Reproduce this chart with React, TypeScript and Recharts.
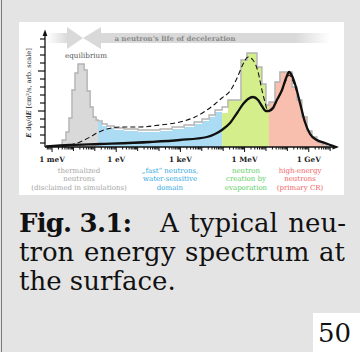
import { ComposedChart, Area, Line, XAxis, YAxis } from 'recharts';

// x values are log10(E / eV), y values in arbitrary units (pixels above the axis)
const histEdges = [
  -2.53, -2.35, -2.21, -2.07, -1.93, -1.79, -1.65, -1.5, -1.36, -1.22, -1.08, -0.94, -0.85,
  -0.66, -0.43, -0.1, 0.36, 1.02, 2.05, 2.61, 3.17, 3.64, 4.01, 4.34, 4.62, 4.95,
  5.22, 5.83, 6.11, 6.58, 6.81, 7.0, 7.14,
  7.42, 7.65, 8.22, 8.45, 8.68, 8.92, 9.15, 9.38, 9.62, 9.85,
];
const histCounts = [
  7, 15, 29, 57, 74, 83, 83, 77, 56, 40, 30, 27,
  26, 23, 21, 19, 18, 17, 18, 20, 22, 25, 28, 32, 37,
  40, 47, 87, 94, 80, 63, 42,
  45, 65, 75, 60, 47, 30, 16, 10, 5, 2.5,
];
// coloured fill under the outline (sits a little lower in the fast region)
const fillCounts = [
  7, 15, 29, 57, 74, 83, 83, 77, 56, 40, 30, 27,
  25, 21, 19, 17, 16, 15, 16, 18, 20, 23, 26, 30, 35,
  34, 47, 87, 94, 80, 63, 42,
  45, 65, 75, 60, 47, 30, 16, 10, 5, 2.5,
];
const regionBounds = [-2.53, -0.85, 4.95, 7.14, 9.85];
const regionColors = ['#d9d9d9', '#abdcf4', '#d5ee8c', '#f8beae'];
const regionTextColors = ['#a3a3a3', '#2fa9e2', '#5ccf66', '#f06464'];
const regionLabels = [
  ['thermalized', 'neutrons', '(disclaimed in simulations)'],
  ['„fast“ neutrons,', 'water-sensitive', 'domain'],
  ['neutron', 'creation by', 'evaporation'],
  ['high-energy', 'neutrons', '(primary CR)'],
];
const regionLabelX = [79, 170, 246, 300];

const solidX = [-3.28, -2.16, -0.76, 1.58, 2.98, 4.24, 4.62, 4.94, 5.32, 5.65, 5.93, 6.16, 6.39, 6.63, 6.81, 7.0, 7.14, 7.33, 7.51, 7.75, 7.94, 8.08, 8.22, 8.4, 8.59, 8.82, 9.06, 9.38, 9.76, 10.13];
const solidY = [0.5, 2, 3, 5, 7, 10, 13, 17, 24, 34, 43, 48, 50, 47, 41, 36, 36, 39, 47, 57, 69, 75, 71, 60, 44, 25, 13, 7, 4, 1];

const dashedX = [-2.53, -2.16, -1.69, -1.22, -0.9, -0.43, 0.18, 1.11, 2.05, 2.98, 3.68, 4.24, 4.62, 4.94, 5.32, 5.65, 5.93, 6.16, 6.39, 6.63, 6.81, 6.95, 7.09, 7.28, 7.51, 7.75, 7.94, 8.08, 8.22, 8.4, 8.59, 8.82, 9.06, 9.38, 9.76, 10.13];
const dashedY = [0.5, 2, 5, 10, 14, 18, 20, 20, 22, 25, 30, 37, 43, 49, 56, 69, 83, 90, 87, 75, 57, 45, 36, 39, 46, 57, 67, 72, 68, 58, 44, 25, 13, 7, 4, 1];

const xDecades = [-3, -2, -1, 0, 1, 2, 3, 4, 5, 6, 7, 8, 9, 10];
const xLabels: Record<number, string> = { '-3': '1 meV', 0: '1 eV', 3: '1 keV', 6: '1 MeV', 9: '1 GeV' };
const yTicks = [4, 12, 20, 28, 36, 44, 52, 60, 68, 76, 84, 92, 100, 108];
const yMajor = [36, 76];

const X_DOMAIN = [-3.33, 10.32];

const xTicks: number[] = [];
[-4, ...xDecades].forEach((d) => {
  for (let k = 1; k <= 9; k++) {
    const v = d + Math.log10(k);
    if (v >= -3.3 && v <= 10.2) xTicks.push(+v.toFixed(4));
  }
});

function steps(edges: number[], counts: number[], from: number, to: number) {
  const pts: { x: number; y: number }[] = [];
  const i0 = edges.findIndex((e) => Math.abs(e - from) < 1e-6);
  const i1 = edges.findIndex((e) => Math.abs(e - to) < 1e-6);
  pts.push({ x: edges[i0], y: 0 });
  for (let i = i0; i < i1; i++) pts.push({ x: edges[i], y: counts[i] });
  pts.push({ x: edges[i1], y: counts[i1 - 1] });
  pts.push({ x: edges[i1], y: 0 });
  return pts;
}

const outline = steps(histEdges, histCounts, regionBounds[0], regionBounds[regionBounds.length - 1]);
const regionFills = regionColors.map((_, i) => steps(histEdges, fillCounts, regionBounds[i], regionBounds[i + 1]));
const solidData = solidX.map((x, i) => ({ x, y: solidY[i] }));
const dashedData = dashedX.map((x, i) => ({ x, y: dashedY[i] }));

const FONT = '"DejaVu Serif", serif';

const XTick = (props: any) => {
  const { x, y, payload } = props;
  const v = payload.value;
  const isDecade = Math.abs(v - Math.round(v)) < 1e-6;
  const label = isDecade ? xLabels[Math.round(v)] : undefined;
  const len = label ? 5 : isDecade ? 4 : 2.5;
  return (
    <g>
      <line x1={x} x2={x} y1={y} y2={y + len} stroke="#111" strokeWidth={1} />
      {label && (
        <text x={x} y={y + 14.5} textAnchor="middle" fontSize={7.3} fontWeight="bold" fontFamily={FONT} fill="#222">
          {label}
        </text>
      )}
    </g>
  );
};

const YTick = (props: any) => {
  const { x, y, payload } = props;
  const len = yMajor.includes(payload.value) ? 7 : 5;
  return (
    <g>
      <line x1={x} x2={x - len} y1={y} y2={y} stroke="#111" strokeWidth={1.2} />
    </g>
  );
};

export default function App() {
  return (
    <div style={{ position: 'absolute', left: 0, top: 0, width: 360, height: 352, background: '#e4e4e4', overflow: 'hidden', fontFamily: FONT, color: '#111' }}>
      <div style={{ position: 'absolute', left: 1, top: 0, width: 1, height: 352, background: '#7c7c7c' }} />
      <div style={{ position: 'absolute', left: 19, top: 22, width: 325, height: 173, background: '#fff' }} />

      <div style={{ position: 'absolute', left: 0, top: 0 }}>
        <ComposedChart width={360} height={200} margin={{ top: 32, right: 23, bottom: 33, left: 15 }}>
          <XAxis
            dataKey="x"
            type="number"
            domain={X_DOMAIN}
            allowDataOverflow
            ticks={xTicks}
            interval={0}
            tick={XTick}
            tickLine={false}
            tickSize={0}
            tickMargin={0}
            height={20}
            axisLine={{ stroke: '#111', strokeWidth: 1.3 }}
          />
          <YAxis
            dataKey="y"
            type="number"
            domain={[0, 115]}
            allowDataOverflow
            ticks={yTicks}
            interval={0}
            tick={YTick}
            tickLine={false}
            tickSize={0}
            tickMargin={0}
            width={30}
            axisLine={{ stroke: '#111', strokeWidth: 1.3 }}
          />
          {regionFills.map((d, i) => (
            <Area key={i} data={d} dataKey="y" type="stepAfter" fill={regionColors[i]} fillOpacity={1} stroke="none" baseValue={0} isAnimationActive={false} dot={false} activeDot={false} />
          ))}
          <Area data={outline} dataKey="y" type="stepAfter" fill="none" stroke="#b3b3b3" strokeWidth={1.4} baseValue={0} isAnimationActive={false} dot={false} activeDot={false} />
          <Line data={dashedData} dataKey="y" type="monotone" stroke="#111" strokeWidth={1.1} strokeDasharray="5 3" dot={false} activeDot={false} isAnimationActive={false} />
          <Line data={solidData} dataKey="y" type="monotone" stroke="#111" strokeWidth={2.3} dot={false} activeDot={false} isAnimationActive={false} />
        </ComposedChart>
      </div>

      <svg width={360} height={200} style={{ position: 'absolute', left: 0, top: 0, pointerEvents: 'none' }}>
        <defs>
          <linearGradient id="fadeL" x1="0" x2="1" y1="0" y2="0">
            <stop offset="0" stopColor="#d9d9d9" stopOpacity={0} />
            <stop offset="1" stopColor="#d9d9d9" stopOpacity={1} />
          </linearGradient>
          <linearGradient id="fadeR" x1="0" x2="1" y1="0" y2="0">
            <stop offset="0" stopColor="#d9d9d9" stopOpacity={1} />
            <stop offset="0.85" stopColor="#d9d9d9" stopOpacity={1} />
            <stop offset="1" stopColor="#d9d9d9" stopOpacity={0} />
          </linearGradient>
        </defs>
        <rect x={47} y={33} width={21} height={10} fill="url(#fadeL)" />
        <polygon points="67,27 83,38 67,49" fill="#d9d9d9" />
        <polygon points="101,27 83,38 101,49" fill="#d9d9d9" />
        <rect x={100} y={33} width={230} height={10} fill="url(#fadeR)" />
        <text x={175} y={40.5} textAnchor="middle" fontSize={7} fontWeight="bold" fontFamily={FONT} fill="#8a8a8a">
          a neutron's life of deceleration
        </text>
        <text x={86} y={58} textAnchor="middle" fontSize={7.2} fontFamily={FONT} fill="#555">
          equilibrium
        </text>

        <polygon points="45,29.5 42.6,36 47.4,36" fill="#111" />
        <polygon points="339,147 332.5,144.6 332.5,149.4" fill="#111" />

        <text transform="translate(31,93) rotate(-90)" textAnchor="middle" fontSize={6.6} fontFamily={FONT} fill="#222">
          <tspan fontWeight="bold" fontStyle="italic">E</tspan>
          <tspan> dφ/d</tspan>
          <tspan fontWeight="bold" fontStyle="italic">E</tspan>
          <tspan> [cm²/s, arb. scale]</tspan>
        </text>

        {regionLabels.map((lines, i) => (
          <text key={i} textAnchor="middle" fontSize={7} fontFamily={FONT} fill={regionTextColors[i]}>
            {lines.map((t, j) => (
              <tspan key={j} x={regionLabelX[i]} y={172.5 + j * 8.5}>
                {t}
              </tspan>
            ))}
          </text>
        ))}
      </svg>

      <div style={{ position: 'absolute', left: 19, top: 208.5, height: 29, lineHeight: '29px', fontSize: 26, fontWeight: 'bold', letterSpacing: -0.8, whiteSpace: 'nowrap' }}>
        Fig. 3.1:
      </div>
      <div style={{ position: 'absolute', left: 160, top: 208.5, width: 186, lineHeight: '29px', fontSize: 26, textAlign: 'justify', textAlignLast: 'justify' }}>
        A typical neu-
      </div>
      <div style={{ position: 'absolute', left: 19, top: 237.5, width: 326, lineHeight: '29px', fontSize: 26, textAlign: 'justify', textAlignLast: 'justify' }}>
        tron energy spectrum at
      </div>
      <div style={{ position: 'absolute', left: 19, top: 266.5, lineHeight: '29px', fontSize: 26, whiteSpace: 'nowrap' }}>
        the surface.
      </div>

      <div style={{ position: 'absolute', left: 313, top: 313, width: 47, height: 39, background: '#fff' }} />
      <div style={{ position: 'absolute', left: 318, top: 318.5, lineHeight: '29px', fontSize: 26, whiteSpace: 'nowrap' }}>
        50
      </div>
    </div>
  );
}
